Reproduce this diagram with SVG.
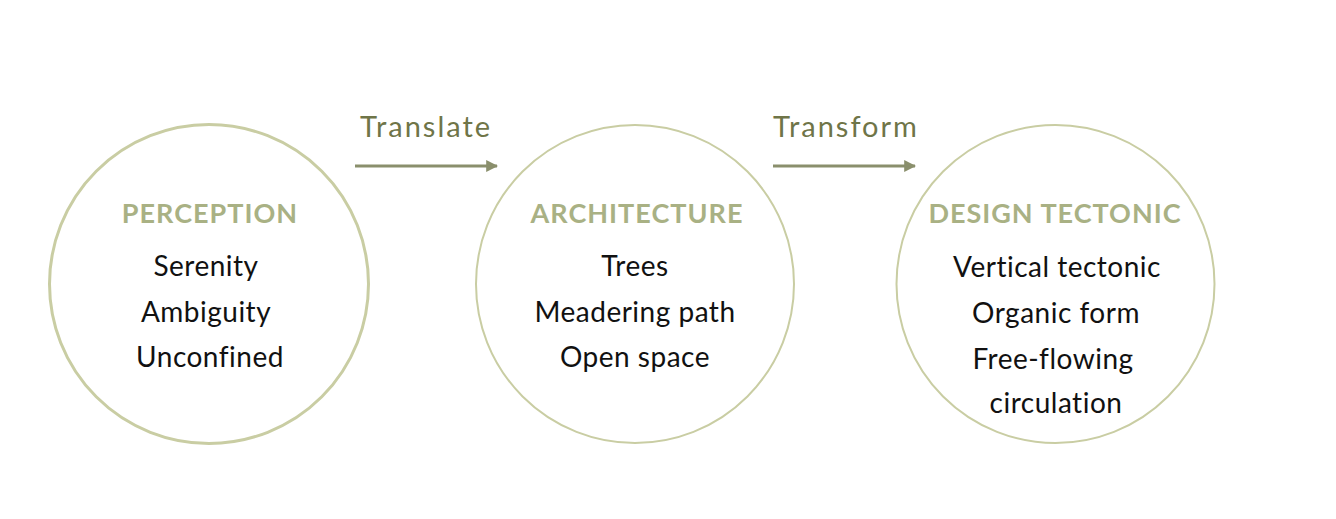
<svg xmlns="http://www.w3.org/2000/svg" width="1336" height="519" viewBox="0 0 1336 519">
<style>
.ring{fill:none;stroke:#c9cda3;}
.head{font-family:Lato,"Noto Sans",sans-serif;font-weight:bold;font-size:27px;fill:#a9b184;text-anchor:middle;letter-spacing:1px;}
.body{font-family:Lato,"Noto Sans",sans-serif;font-size:28px;fill:#111111;text-anchor:middle;letter-spacing:0.5px;}
.lbl{font-family:Lato,"Noto Sans",sans-serif;font-size:29px;fill:#6f7548;letter-spacing:2px;}
.arrow{stroke:#8a8f6c;stroke-width:3;fill:none;}
</style>
<defs>
<marker id="ah" viewBox="0 0 10 10" refX="9" refY="5" markerWidth="4" markerHeight="4" markerUnits="strokeWidth" orient="auto">
<path d="M0,0 L10,5 L0,10 z" fill="#8a8f6c"/>
</marker>
</defs>
<rect width="1336" height="519" fill="#ffffff"/>
<g id="connectors">
<line class="arrow" x1="355" y1="166" x2="497" y2="166" marker-end="url(#ah)"/>
<text class="lbl" x="360" y="137">Translate</text>
<line class="arrow" x1="773" y1="166" x2="915" y2="166" marker-end="url(#ah)"/>
<text class="lbl" x="773" y="137">Transform</text>
</g>
<g id="perception">
<circle class="ring" cx="209" cy="284" r="159.5" stroke-width="3"/>
<text class="head" x="210" y="223">PERCEPTION</text>
<text class="body" x="206" y="276">Serenity</text>
<text class="body" x="206" y="322">Ambiguity</text>
<text class="body" x="210" y="367">Unconfined</text>
</g>
<g id="architecture">
<circle class="ring" cx="635" cy="284" r="159" stroke-width="2"/>
<text class="head" x="637" y="223">ARCHITECTURE</text>
<text class="body" x="635" y="276">Trees</text>
<text class="body" x="635" y="322">Meadering path</text>
<text class="body" x="635" y="367">Open space</text>
</g>
<g id="design-tectonic">
<circle class="ring" cx="1055.5" cy="284" r="159" stroke-width="2"/>
<text class="head" x="1055" y="223">DESIGN TECTONIC</text>
<text class="body" x="1057" y="277">Vertical tectonic</text>
<text class="body" x="1056" y="323">Organic form</text>
<text class="body" x="1053" y="369">Free-flowing</text>
<text class="body" x="1056" y="413">circulation</text>
</g>
</svg>
